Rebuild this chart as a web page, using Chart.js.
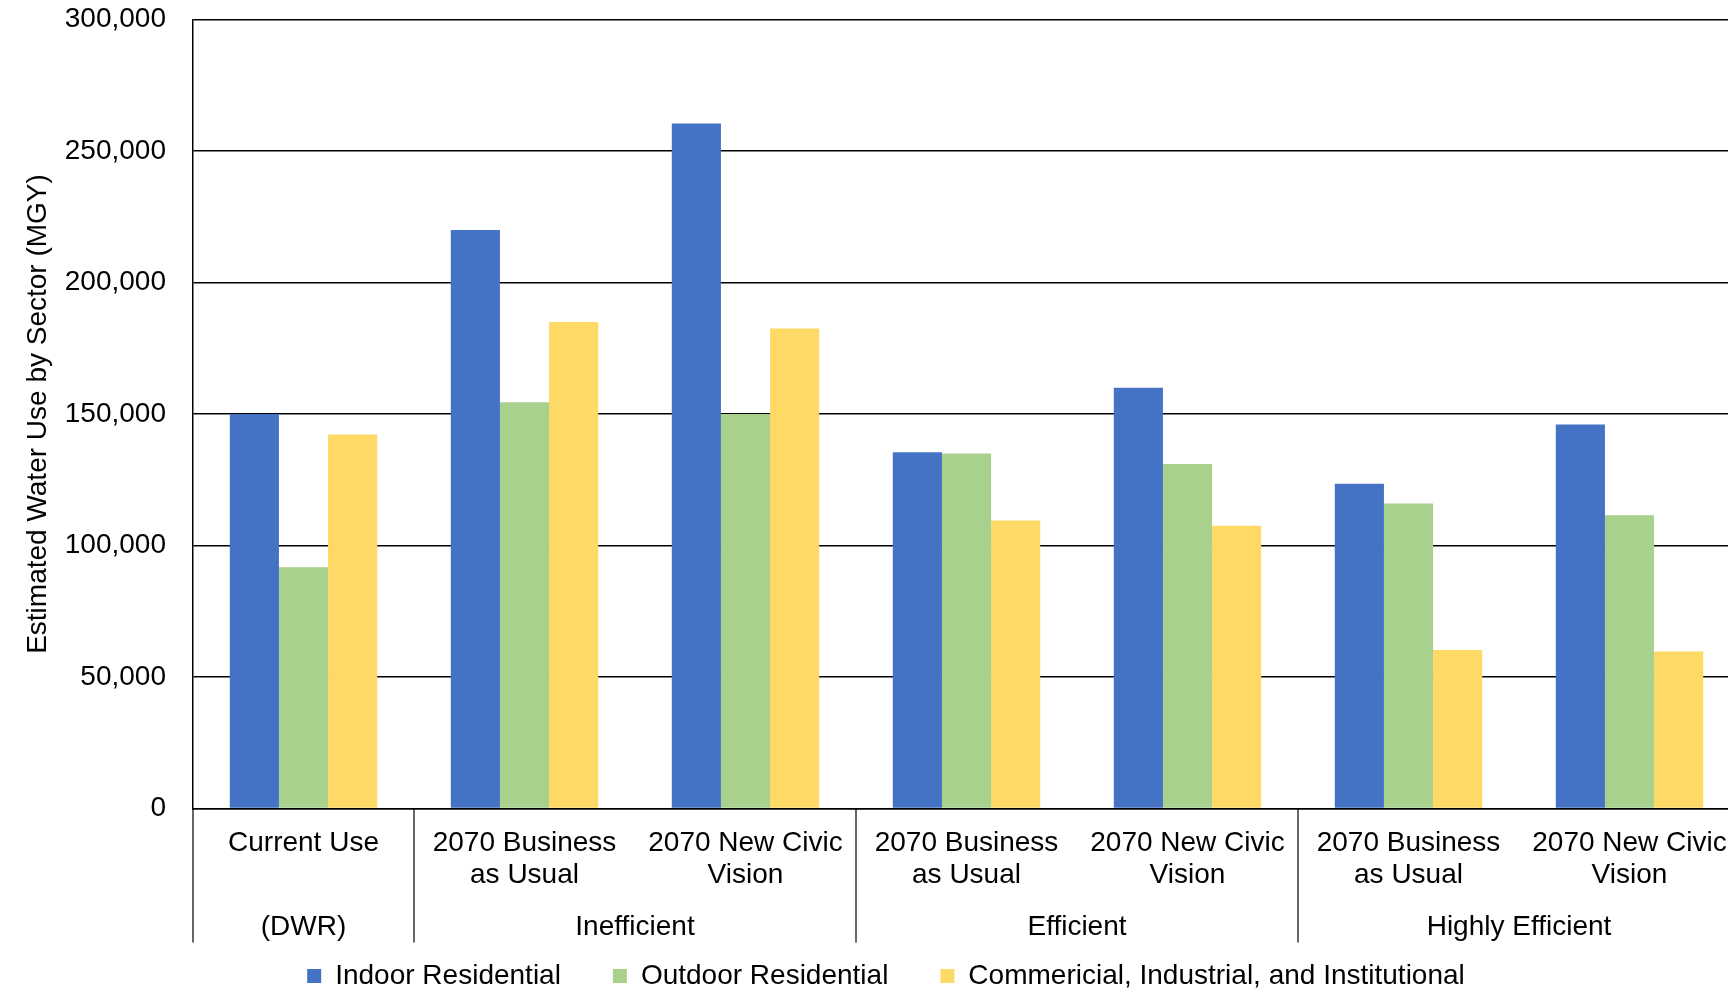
<!DOCTYPE html>
<html>
<head>
<meta charset="utf-8">
<script src="https://cdn.jsdelivr.net/npm/chart.js@4.4.1/dist/chart.umd.min.js"></script>
<style>
  html, body { margin: 0; padding: 0; background: #fff; overflow: hidden; }
  canvas { display: block; }
</style>
</head>
<body>
<canvas id="myChart" width="1760" height="1000"></canvas>
<script>
// scenario labels (two lines each) and the efficiency group under them
var categories = [
	["Current Use"],
	["2070 Business", "as Usual"],
	["2070 New Civic", "Vision"],
	["2070 Business", "as Usual"],
	["2070 New Civic", "Vision"],
	["2070 Business", "as Usual"],
	["2070 New Civic", "Vision"]
];
var groupNames = ["(DWR)", "Inefficient", "Efficient", "Highly Efficient"];
var groupFirst = [0, 1, 3, 5];
var groupLast = [0, 2, 4, 6];

var seriesNames = ["Indoor Residential", "Outdoor Residential", "Commericial, Industrial, and Institutional"];
var indoor = [150000, 220000, 260500, 135500, 160000, 123500, 146000];
var outdoor = [91700, 154500, 150000, 135000, 131000, 116000, 111500];
var cii = [142200, 185000, 182500, 109500, 107500, 60300, 59700];
var barColors = ["#4472C4", "#A9D18E", "#FFD966"];

var yTicks = [0, 50000, 100000, 150000, 200000, 250000, 300000];

var fontName = '"Liberation Sans", Arial, sans-serif';

// group captions and separators below the category labels
var groupPlugin = {
	id: "groups",
	afterDraw: function (chart) {
		var x = chart.scales.x;
		var ctx = chart.ctx;
		var b = chart.chartArea.bottom;
		ctx.save();
		ctx.strokeStyle = "#000";
		ctx.lineWidth = 1.2;
		var edges = [groupFirst[0] - 0.5];
		for (var i = 0; i < groupLast.length; i++) edges.push(groupLast[i] + 0.5);
		edges.forEach(function (e) {
			var px = x.getPixelForValue(e);
			ctx.beginPath();
			ctx.moveTo(px, b);
			ctx.lineTo(px, b + 134);
			ctx.stroke();
		});
		ctx.font = "28px " + fontName;
		ctx.fillStyle = "#000";
		ctx.textAlign = "center";
		ctx.textBaseline = "middle";
		for (var j = 0; j < groupNames.length; j++) {
			var c = (x.getPixelForValue(groupFirst[j]) + x.getPixelForValue(groupLast[j])) / 2;
			ctx.fillText(groupNames[j], c, b + 118.5);
		}
		ctx.restore();
	}
};

new Chart("myChart", {
	type: "bar",
	data: {
		labels: categories,
		datasets: [
			{ label: seriesNames[0], data: indoor, backgroundColor: barColors[0] },
			{ label: seriesNames[1], data: outdoor, backgroundColor: barColors[1] },
			{ label: seriesNames[2], data: cii, backgroundColor: barColors[2] }
		]
	},
	plugins: [groupPlugin],
	options: {
		responsive: false,
		animation: false,
		devicePixelRatio: 1,
		datasets: {
			bar: { categoryPercentage: 0.667, barPercentage: 1 }
		},
		layout: { padding: { left: 32, right: 20, top: 19.5, bottom: 0 } },
		plugins: {
			tooltip: { enabled: false },
			legend: {
				position: "bottom",
				labels: {
					boxWidth: 14,
					boxHeight: 14,
					padding: 52,
					color: "#000",
					font: { family: fontName, size: 28 }
				}
			}
		},
		scales: {
			x: {
				grid: { display: false, drawTicks: false },
				border: { color: "#000", width: 1.5 },
				ticks: {
					color: "#000",
					autoSkip: false,
					maxRotation: 0,
					minRotation: 0,
					padding: 18,
					font: { family: fontName, size: 28, lineHeight: 1.17 }
				},
				afterFit: function (s) { s.height = 101.5; }
			},
			y: {
				min: 0,
				max: 300000,
				afterBuildTicks: function (s) {
					s.ticks = yTicks.map(function (v) { return { value: v }; });
				},
				// invisible tick marks keep the labels away from the axis
				grid: { color: "#000", lineWidth: 1.5, drawTicks: true, tickLength: 27, tickColor: "rgba(0,0,0,0)" },
				border: { color: "#000", width: 1.5 },
				ticks: {
					color: "#000",
					padding: 0,
					font: { family: fontName, size: 28 },
					callback: function (v) { return v.toLocaleString("en-US"); }
				},
				title: {
					display: true,
					text: "Estimated Water Use by Sector (MGY)",
					color: "#000",
					padding: { top: -11, bottom: 0 },
					font: { family: fontName, size: 28, lineHeight: 1.2 }
				},
				afterFit: function (s) { s.width = 161; }
			}
		}
	}
});
</script>
</body>
</html>
